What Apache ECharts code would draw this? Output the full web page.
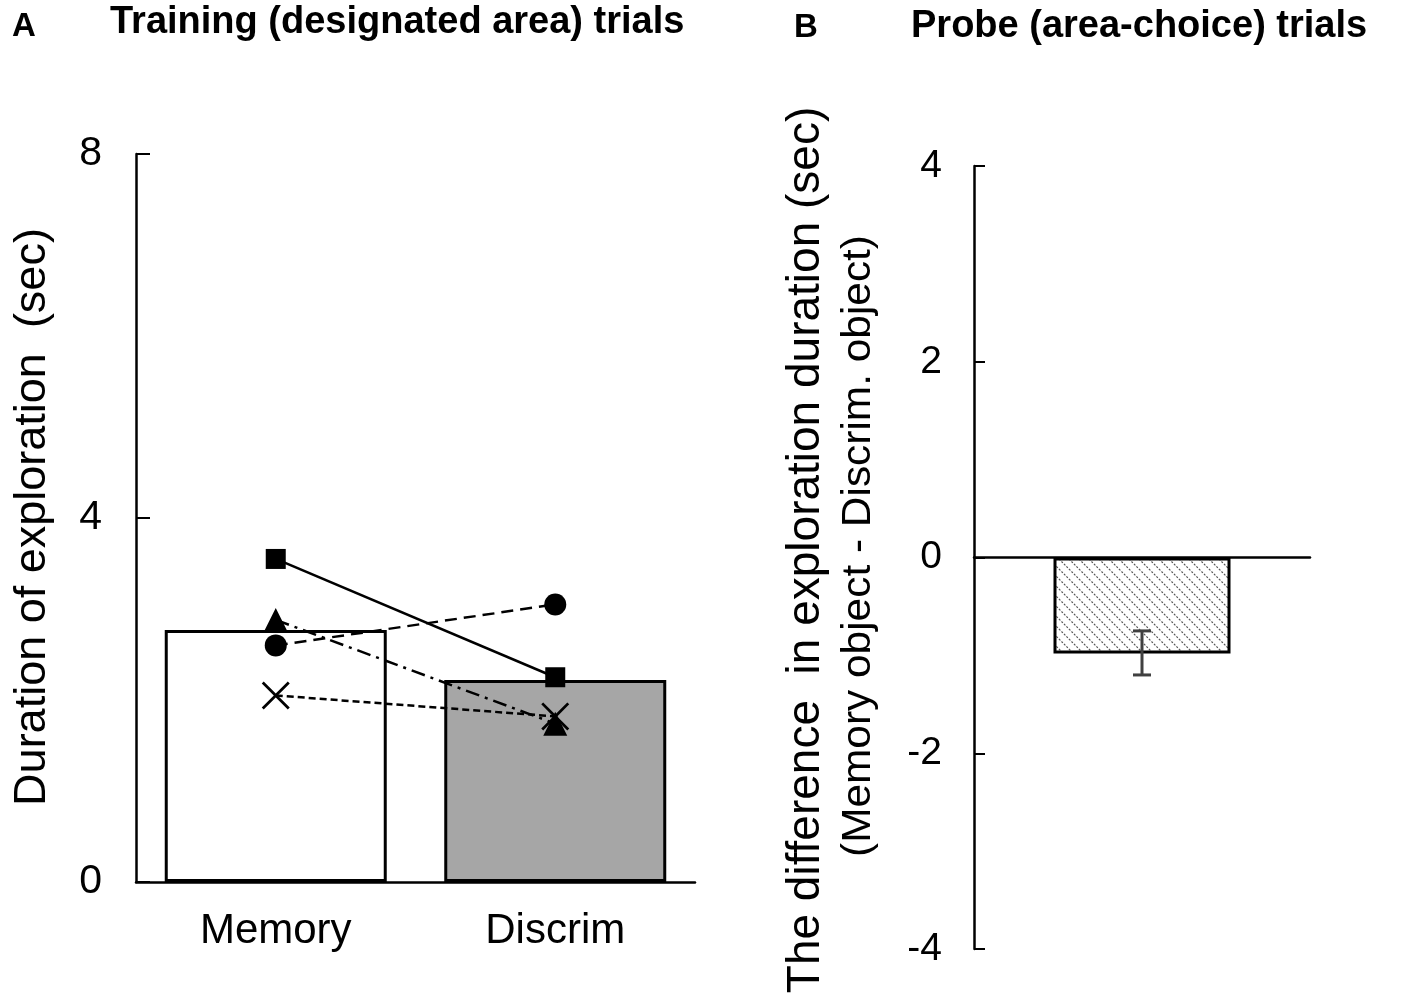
<!DOCTYPE html>
<html>
<head>
<meta charset="utf-8">
<script src="https://cdn.jsdelivr.net/npm/echarts@6/dist/echarts.min.js"></script>
<style>
html,body{margin:0;padding:0;background:#fff;}
#chart{width:1417px;height:1003px;}
</style>
</head>
<body>
<div id="chart"></div>
<script>
// ---- Data ----
var categories = ['Memory', 'Discrim'];
var meanValues = [2.77, 2.22];
var squareVals = [3.55, 2.25];
var circleVals = [2.60, 3.05];
var triangleVals = [2.88, 1.74];
var crossVals = [2.05, 1.82];
var yTicksA = [0, 4, 8];

var probeCategory = ['Probe'];
var probeMean = [-0.98];
var probeErrLow = [-1.20];
var probeErrHigh = [-0.75];
var yTicksB = [-4, -2, 0, 2, 4];

// ---- Styles ----
var FONT = "'Liberation Sans', Arial, sans-serif";
var crossPath = 'path://M0,0.7L0.7,0L5,4.3L9.3,0L10,0.7L5.7,5L10,9.3L9.3,10L5,5.7L0.7,10L0,9.3L4.3,5Z';

function makeHatch() {
  var n = 10;
  var c = document.createElement('canvas');
  c.width = n; c.height = n;
  var ctx = c.getContext('2d');
  ctx.fillStyle = '#ffffff';
  ctx.fillRect(0, 0, n, n);
  ctx.strokeStyle = '#555555';
  ctx.lineWidth = 1.2;
  ctx.setLineDash([2, 1.5]);
  ctx.beginPath();
  ctx.moveTo(-1, -1); ctx.lineTo(n + 1, n + 1);
  ctx.moveTo(-1, n - 1); ctx.lineTo(1, n + 1);
  ctx.moveTo(n - 1, -1); ctx.lineTo(n + 1, 1);
  ctx.stroke();
  return c;
}

var chart = echarts.init(document.getElementById('chart'), null, {renderer: 'canvas'});

function indivSeries(name, vals, symbol, size, dash) {
  return {
    name: name, type: 'line', xAxisIndex: 0, yAxisIndex: 0,
    data: vals, symbol: symbol, symbolSize: size, z: 5,
    lineStyle: {color: '#000', width: 2.5, type: dash},
    itemStyle: {color: '#000'},
    animation: false
  };
}

var option = {
  animation: false,
  backgroundColor: '#fff',
  textStyle: {fontFamily: FONT, color: '#000'},
  grid: [
    {left: 136, top: 154, width: 559, height: 728},
    {left: 974, top: 166, width: 336, height: 783}
  ],
  xAxis: [
    {
      gridIndex: 0, type: 'category', data: categories,
      axisLine: {lineStyle: {color: '#000', width: 2.5}},
      axisTick: {show: false},
      axisLabel: {fontSize: 42, color: '#000', margin: 28, fontFamily: FONT},
      splitLine: {show: false}
    },
    {
      gridIndex: 1, type: 'category', data: probeCategory,
      axisLine: {onZero: true, lineStyle: {color: '#000', width: 2.5}},
      axisTick: {show: false},
      axisLabel: {show: false},
      splitLine: {show: false}
    }
  ],
  yAxis: [
    {
      gridIndex: 0, type: 'value', min: yTicksA[0], max: yTicksA[yTicksA.length - 1], interval: 4,
      axisLine: {show: true, lineStyle: {color: '#000', width: 2.5}},
      axisTick: {show: true, inside: true, length: 14, lineStyle: {color: '#000', width: 2}},
      axisLabel: {fontSize: 41, color: '#000', margin: 34, fontFamily: FONT},
      splitLine: {show: false}
    },
    {
      gridIndex: 1, type: 'value', min: yTicksB[0], max: yTicksB[yTicksB.length - 1], interval: 2,
      axisLine: {show: true, onZero: false, lineStyle: {color: '#000', width: 2.5}},
      axisTick: {show: true, inside: true, length: 11, lineStyle: {color: '#000', width: 2}},
      axisLabel: {fontSize: 39, color: '#000', margin: 32, fontFamily: FONT},
      splitLine: {show: false}
    }
  ],
  series: [
    {
      name: 'Mean', type: 'bar', xAxisIndex: 0, yAxisIndex: 0,
      barWidth: 222, z: 2,
      data: meanValues.map(function (v, i) {
        return {value: v, itemStyle: {color: i === 0 ? '#ffffff' : '#a6a6a6', borderColor: '#000', borderWidth: 3}};
      })
    },
    indivSeries('Square', squareVals, 'rect', 20, 'solid'),
    indivSeries('Circle', circleVals, 'circle', 22, [12, 7]),
    indivSeries('Triangle', triangleVals, 'triangle', 24, [14, 6, 3, 6]),
    indivSeries('Cross', crossVals, crossPath, 28, [7, 4]),
    {
      name: 'Probe', type: 'bar', xAxisIndex: 1, yAxisIndex: 1,
      barWidth: 177, z: 2,
      data: probeMean,
      itemStyle: {color: {image: makeHatch(), repeat: 'repeat'}, borderColor: '#000', borderWidth: 3}
    },
    {
      name: 'ProbeErr', type: 'custom', xAxisIndex: 1, yAxisIndex: 1, z: 6,
      data: probeMean.map(function (m, i) { return [i, probeErrLow[i], probeErrHigh[i]]; }),
      renderItem: function (params, api) {
        var lo = api.coord([api.value(0), api.value(1)]);
        var hi = api.coord([api.value(0), api.value(2)]);
        var cap = 9;
        var st = {stroke: '#404040', lineWidth: 3};
        return {
          type: 'group',
          children: [
            {type: 'line', shape: {x1: lo[0], y1: lo[1], x2: hi[0], y2: hi[1]}, style: st},
            {type: 'line', shape: {x1: lo[0] - cap, y1: lo[1], x2: lo[0] + cap, y2: lo[1]}, style: st},
            {type: 'line', shape: {x1: hi[0] - cap, y1: hi[1], x2: hi[0] + cap, y2: hi[1]}, style: st}
          ]
        };
      }
    }
  ],
  graphic: [
    {type: 'text', x: 12, y: 27, style: {text: 'A', font: 'bold 33px ' + FONT, fill: '#000', textVerticalAlign: 'middle'}},
    {type: 'text', x: 110, y: 23, style: {text: 'Training (designated area) trials', font: 'bold 38px ' + FONT, fill: '#000', textVerticalAlign: 'middle'}},
    {type: 'text', x: 794, y: 28, style: {text: 'B', font: 'bold 33px ' + FONT, fill: '#000', textVerticalAlign: 'middle'}},
    {type: 'text', x: 911, y: 27, style: {text: 'Probe (area-choice) trials', font: 'bold 38px ' + FONT, fill: '#000', textVerticalAlign: 'middle'}},
    {type: 'text', x: 33, y: 517, rotation: Math.PI / 2,
      style: {text: 'Duration of exploration  (sec)', font: '45px ' + FONT, fill: '#000', textAlign: 'center', textVerticalAlign: 'middle'}},
    {type: 'text', x: 806, y: 550, rotation: Math.PI / 2,
      style: {text: 'The difference  in exploration duration (sec)', font: '46px ' + FONT, fill: '#000', textAlign: 'center', textVerticalAlign: 'middle'}},
    {type: 'text', x: 859, y: 546, rotation: Math.PI / 2, scaleX: 1.06,
      style: {text: '(Memory object - Discrim. object)', font: '40px ' + FONT, fill: '#000', textAlign: 'center', textVerticalAlign: 'middle'}}
  ]
};
chart.setOption(option);
</script>
</body>
</html>
